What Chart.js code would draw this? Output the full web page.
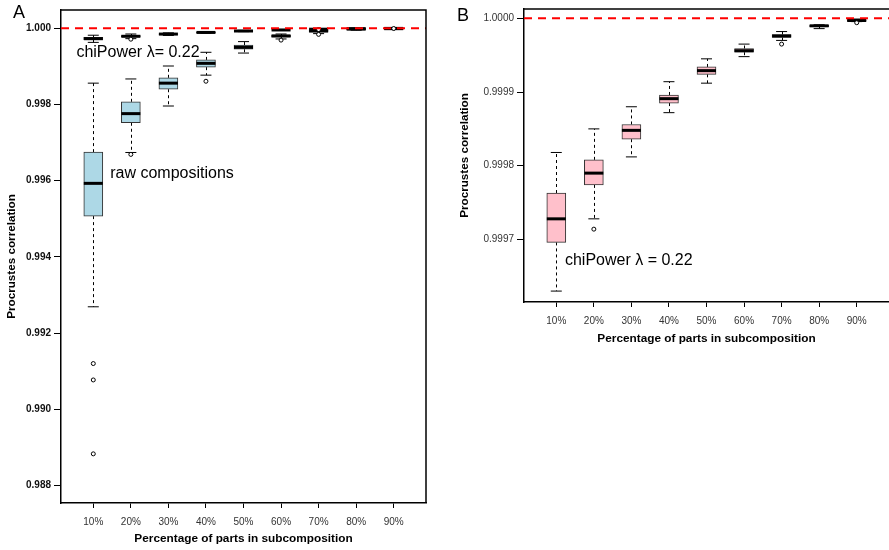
<!DOCTYPE html>
<html>
<head>
<meta charset="utf-8">
<script src="https://cdn.jsdelivr.net/npm/chart.js@4.4.1/dist/chart.umd.min.js"></script>
<style>
  body { margin: 0; background: #fff; width: 889px; height: 550px; overflow: hidden; position: relative; }
  #wrapA { position: absolute; left: 0; top: 0; width: 450px; height: 550px; }
  #wrapB { position: absolute; left: 450px; top: 0; width: 439px; height: 360px; }
</style>
</head>
<body>
<div id="wrapA"><canvas id="chartA" width="450" height="550"></canvas></div>
<div id="wrapB"><canvas id="chartB" width="439" height="360"></canvas></div>
<script>
// categories and tick labels
const categories = ["10%", "20%", "30%", "40%", "50%", "60%", "70%", "80%", "90%"];
const yTicksA = [0.988, 0.990, 0.992, 0.994, 0.996, 0.998, 1.000];
const yTicksB = [0.9997, 0.9998, 0.9999, 1.0000];

// raw compositions (panel A, blue)
const rawHigh   = [0.99856, 0.99867, 0.99901, 0.99937, 0.99965, 0.99985, 0.99999, 1.00000, 1.00000];
const rawQ3     = [0.99675, 0.99807, 0.99870, 0.99917, 0.99956, 0.99982, 0.99996, 0.99999, 0.999995];
const rawMedian = [0.99593, 0.99776, 0.99856, 0.99908, 0.99950, 0.99980, 0.99993, 0.99998, 0.99999];
const rawQ1     = [0.99507, 0.99752, 0.99840, 0.99898, 0.99945, 0.99977, 0.99990, 0.99997, 0.999985];
const rawLow    = [0.99269, 0.99674, 0.99796, 0.99877, 0.99935, 0.99972, 0.99986, 0.99995, 0.99997];
const rawOut    = [[0.99120, 0.99077, 0.98883], [0.99669], [], [0.99861], [], [0.99969], [0.99984], [], []];

// chiPower lambda = 0.22 (pink)
const chiHigh   = [0.999818, 0.999850, 0.999880, 0.999914, 0.999945, 0.999965, 0.999982, 0.9999912, 0.999999];
const chiQ3     = [0.999763, 0.999808, 0.999856, 0.999896, 0.999934, 0.999959, 0.999978, 0.9999905, 0.999998];
const chiMedian = [0.999728, 0.999790, 0.999848, 0.999891, 0.999929, 0.999956, 0.999976, 0.9999898, 0.999997];
const chiQ1     = [0.999696, 0.999774, 0.999836, 0.999885, 0.999924, 0.999954, 0.999974, 0.9999888, 0.999996];
const chiLow    = [0.999630, 0.999728, 0.999812, 0.999872, 0.999912, 0.999948, 0.999970, 0.999986, 0.9999955];
const chiOut    = [[], [0.999714], [], [], [], [], [0.999965], [], [0.999994]];

const FONT = '"Liberation Sans", Arial, Helvetica, sans-serif';
Chart.defaults.font.family = FONT;

const X_MIN = 0.14, X_MAX = 9.86;

function boxSets(q1, q3, med, lo, hi, out, fill) {
  const xs = categories.map((c, i) => i + 1);
  return [
    {
      type: 'bar', grouped: false, order: 4,
      data: xs.map((x, i) => ({ x: x, y: [q1[i], q3[i]] })),
      backgroundColor: fill, borderColor: '#333', borderWidth: 1,
      borderSkipped: false, barThickness: 19
    },
    {
      type: 'scatter', order: 2,
      data: xs.map((x, i) => ({ x: x, y: med[i] })),
      pointStyle: 'line', pointRadius: 9.5, pointBorderWidth: 3, pointBorderColor: '#000'
    },
    {
      type: 'scatter', order: 3,
      data: xs.map((x, i) => ({ x: x, y: hi[i] })).concat(xs.map((x, i) => ({ x: x, y: lo[i] }))),
      pointStyle: 'line', pointRadius: 5.5, pointBorderWidth: 1, pointBorderColor: '#000'
    },
    {
      type: 'scatter', order: 1,
      data: out.flatMap((arr, i) => arr.map(v => ({ x: i + 1, y: v }))),
      pointStyle: 'circle', pointRadius: 2, pointBorderWidth: 1,
      pointBorderColor: '#000', pointBackgroundColor: '#fff'
    }
  ];
}

function refLine() {
  return {
    type: 'line', order: 0,
    data: [{ x: X_MIN, y: 1 }, { x: X_MAX, y: 1 }],
    borderColor: '#ff0000', borderWidth: 2, borderDash: [8, 6], pointRadius: 0
  };
}

// dashed whiskers, drawn with the chart's scales
function whiskers(groups) {
  return {
    id: 'whiskers',
    beforeDatasetsDraw(chart) {
      const { ctx, scales: { x, y } } = chart;
      ctx.save();
      ctx.strokeStyle = '#000';
      ctx.lineWidth = 1;
      ctx.setLineDash([3, 3]);
      groups.forEach(g => {
        g.lo.forEach((v, i) => {
          const px = Math.round(x.getPixelForValue(i + 1)) + 0.5;
          ctx.beginPath();
          ctx.moveTo(px, y.getPixelForValue(g.q3[i]));
          ctx.lineTo(px, y.getPixelForValue(g.hi[i]));
          ctx.moveTo(px, y.getPixelForValue(g.q1[i]));
          ctx.lineTo(px, y.getPixelForValue(v));
          ctx.stroke();
        });
      });
      ctx.restore();
    }
  };
}

// frame, panel letter and text notes
function decor(letter, letterPos, notes, rightFrame) {
  return {
    id: 'decor',
    afterDraw(chart) {
      const { ctx, chartArea: a, scales: { x, y } } = chart;
      ctx.save();
      ctx.strokeStyle = '#000';
      ctx.lineWidth = 1.5;
      ctx.beginPath();
      ctx.moveTo(a.left, a.top);
      ctx.lineTo(a.right, a.top);
      if (rightFrame) ctx.lineTo(a.right, a.bottom);
      ctx.stroke();
      ctx.fillStyle = '#000';
      ctx.font = '18px ' + FONT;
      ctx.textBaseline = 'alphabetic';
      ctx.fillText(letter, letterPos[0], letterPos[1]);
      ctx.font = '16px ' + FONT;
      notes.forEach(n => {
        ctx.fillText(n.text, x.getPixelForValue(n.x), y.getPixelForValue(n.y));
      });
      ctx.restore();
    }
  };
}

function scales(yMin, yMax, yTicks, digits, yWidth, xHeight, yTitlePad, xTitlePad, yBold) {
  return {
    x: {
      type: 'linear', min: X_MIN, max: X_MAX, offset: false,
      grid: { display: true, offset: false, drawOnChartArea: false, drawTicks: true, tickLength: 5, color: '#000', lineWidth: 1 },
      border: { display: true, color: '#000', width: 1.5 },
      ticks: {
        color: '#333', font: { size: 10 }, padding: 8, maxRotation: 0, autoSkip: false,
        callback: v => categories[Math.round(v) - 1]
      },
      afterBuildTicks: s => { s.ticks = categories.map((c, i) => ({ value: i + 1 })); },
      afterFit: s => { s.height = xHeight; s.paddingLeft = 0; s.paddingRight = 0; },
      title: {
        display: true, text: 'Percentage of parts in subcomposition', color: '#000',
        font: { size: 11.8, weight: 'bold' }, padding: { top: 0, bottom: xTitlePad }
      }
    },
    y: {
      type: 'linear', min: yMin, max: yMax,
      grid: { display: true, drawOnChartArea: false, drawTicks: true, tickLength: 7, color: '#000', lineWidth: 1 },
      border: { display: true, color: '#000', width: 1.5 },
      ticks: {
        color: yBold ? '#111' : '#333', font: { size: 10, weight: yBold ? 'bold' : 'normal' }, padding: 3,
        callback: v => v.toFixed(digits)
      },
      afterBuildTicks: s => { s.ticks = yTicks.map(v => ({ value: v })); },
      afterFit: s => { s.width = yWidth; s.paddingTop = 0; s.paddingBottom = 0; },
      title: {
        display: true, text: 'Procrustes correlation', color: '#000',
        font: { size: 11.7, weight: 'bold' }, padding: { top: yTitlePad, bottom: 0 }
      }
    }
  };
}

const common = {
  responsive: false,
  animation: false,
  events: [],
  plugins: { legend: { display: false }, tooltip: { enabled: false } }
};

// Panel A
new Chart(document.getElementById('chartA'), {
  type: 'bar',
  data: {
    datasets: [refLine()]
      .concat(boxSets(rawQ1, rawQ3, rawMedian, rawLow, rawHigh, rawOut, '#add8e6'))
      .concat(boxSets(chiQ1, chiQ3, chiMedian, chiLow, chiHigh, chiOut, '#ffc0cb'))
  },
  options: Object.assign({}, common, {
    layout: { autoPadding: false, padding: { top: 10, right: 24, left: 0, bottom: 0 } },
    scales: scales(0.98754, 1.00048, yTicksA, 3, 61, 47, 5, 4, true)
  }),
  plugins: [
    whiskers([
      { q1: rawQ1, q3: rawQ3, lo: rawLow, hi: rawHigh },
      { q1: chiQ1, q3: chiQ3, lo: chiLow, hi: chiHigh }
    ]),
    decor('A', [13, 18], [
      { text: 'chiPower \u03bb= 0.22', x: 0.55, y: 0.99925 },
      { text: 'raw compositions', x: 1.45, y: 0.99607 }
    ], true)
  ]
});

// Panel B
new Chart(document.getElementById('chartB'), {
  type: 'bar',
  data: {
    datasets: [refLine()]
      .concat(boxSets(chiQ1, chiQ3, chiMedian, chiLow, chiHigh, chiOut, '#ffc0cb'))
  },
  options: Object.assign({}, common, {
    layout: { autoPadding: false, padding: { top: 9, right: 0, left: 0, bottom: 0 } },
    scales: scales(0.9996152, 1.0000126, yTicksB, 4, 74, 58, 8, 14, false)
  }),
  plugins: [
    whiskers([{ q1: chiQ1, q3: chiQ3, lo: chiLow, hi: chiHigh }]),
    decor('B', [7, 21], [
      { text: 'chiPower \u03bb = 0.22', x: 1.23, y: 0.999665 }
    ], false)
  ]
});
</script>
</body>
</html>
